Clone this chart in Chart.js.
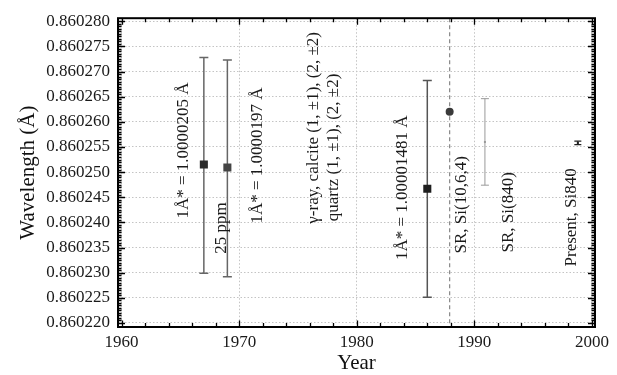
<!DOCTYPE html>
<html><head><meta charset="utf-8">
<script src="https://cdn.jsdelivr.net/npm/chart.js@4/dist/chart.umd.min.js"></script>
<style>html,body{margin:0;padding:0;background:#fff;} canvas{display:block;}</style>
</head><body>
<canvas id="c" width="617" height="375"></canvas>
<script>
// ---- data ----
const years = [1967, 1969, 1986, 1987.9, 1990.9, 1998.8];
const wavelengths = [0.8602515, 0.8602509, 0.8602467, 0.8602620, 0.8602560, 0.8602558];
const errPlus  = [0.0000213, 0.0000214, 0.0000215, 0, 0.0000086, 0.00000035];
const errMinus = [0.0000216, 0.0000217, 0.0000216, 0, 0.0000086, 0.00000035];
const yTicks = [0.860220, 0.860225, 0.860230, 0.860235, 0.860240, 0.860245, 0.860250,
                0.860255, 0.860260, 0.860265, 0.860270, 0.860275, 0.860280];
const yTickLabels = ['0.860220','0.860225','0.860230','0.860235','0.860240','0.860245','0.860250',
                     '0.860255','0.860260','0.860265','0.860270','0.860275','0.860280'];
const xTicks = [1960, 1970, 1980, 1990, 2000];
const xTickLabels = ['1960','1970','1980','1990','2000'];
const refLineYear = 1987.9;
const noteTexts = [
  '1Å* = 1.0000205 Å',
  '25 ppm',
  '1Å* = 1.0000197 Å',
  'γ-ray, calcite (1, ±1), (2, ±2)',
  'quartz (1, ±1), (2, ±2)',
  '1Å* = 1.00001481 Å',
  'SR, Si(10,6,4)',
  'SR, Si(840)',
  'Present, Si840'
];
const xTitle = 'Year';
const yTitle = 'Wavelength (Å)';

// ---- presentation ----
const FONT = "'Liberation Serif', 'Times New Roman', serif";
Chart.defaults.font.family = FONT;
Chart.defaults.font.size = 17;
Chart.defaults.color = '#111';
const noteAnchors = [ // data-coordinate anchors of the rotated notes
  {x: 1965.23, y: 0.8602543}, {x: 1968.52, y: 0.8602389}, {x: 1971.55, y: 0.8602533},
  {x: 1976.30, y: 0.8602588}, {x: 1978.00, y: 0.8602549}, {x: 1983.92, y: 0.8602469},
  {x: 1988.95, y: 0.8602435}, {x: 1992.90, y: 0.8602420}, {x: 1998.30, y: 0.8602410}
];
const barStyle = {
  color: ['#666','#666','#555','#666','#999','#222'],
  width: [1.5,1.5,1.5,1,1,1.2],
  cap:   [4.5,4.5,4.5,0,4,3.5]
};

const plugin = {
  id: 'decor',
  beforeDatasetsDraw(chart) {
    const {ctx, chartArea: a, scales: {x, y}} = chart;
    ctx.save();
    ctx.strokeStyle = '#888'; ctx.lineWidth = 1.2; ctx.setLineDash([4, 3]);
    const rx = x.getPixelForValue(refLineYear);
    ctx.beginPath(); ctx.moveTo(rx, a.top); ctx.lineTo(rx, a.bottom); ctx.stroke();
    ctx.setLineDash([]);
    years.forEach((yr, i) => {
      if (!errPlus[i] && !errMinus[i]) return;
      const px = x.getPixelForValue(yr);
      const top = y.getPixelForValue(wavelengths[i] + errPlus[i]);
      const bot = y.getPixelForValue(wavelengths[i] - errMinus[i]);
      const c = barStyle.cap[i];
      ctx.strokeStyle = barStyle.color[i]; ctx.lineWidth = barStyle.width[i];
      ctx.beginPath();
      ctx.moveTo(px, top); ctx.lineTo(px, bot);
      ctx.moveTo(px - c, top); ctx.lineTo(px + c, top);
      ctx.moveTo(px - c, bot); ctx.lineTo(px + c, bot);
      ctx.stroke();
    });
    ctx.restore();
  },
  afterDraw(chart) {
    const {ctx, chartArea: a, scales: {x, y}} = chart;
    ctx.save();
    ctx.strokeStyle = '#000'; ctx.lineWidth = 1.3;
    ctx.beginPath();
    const x0 = xTicks[0], xStep = (xTicks[1] - xTicks[0]) / 5;
    const nx = Math.round((xTicks[xTicks.length - 1] - x0) / xStep);
    for (let i = 0; i <= nx; i++) {
      const px = Math.round(x.getPixelForValue(x0 + i * xStep)) + 0.5;
      const len = (i % 5 === 0) ? 6.5 : 4;
      ctx.moveTo(px, a.bottom); ctx.lineTo(px, a.bottom - len);
      ctx.moveTo(px, a.top); ctx.lineTo(px, a.top + len);
    }
    const y0 = yTicks[0], yStep = (yTicks[1] - yTicks[0]) / 10;
    const ny = Math.round((yTicks[yTicks.length - 1] - y0) / yStep);
    for (let i = 0; i <= ny; i++) {
      const py = Math.round(y.getPixelForValue(y0 + i * yStep)) + 0.5;
      const len = (i % 10 === 0) ? 7 : 3.5;
      ctx.moveTo(a.left, py); ctx.lineTo(a.left + len, py);
      ctx.moveTo(a.right, py); ctx.lineTo(a.right - len, py);
    }
    ctx.stroke();
    ctx.lineWidth = 2;
    ctx.strokeRect(a.left, a.top, a.right - a.left, a.bottom - a.top);
    ctx.fillStyle = '#1a1a1a';
    ctx.font = '17px ' + FONT;
    ctx.textAlign = 'center'; ctx.textBaseline = 'middle';
    noteTexts.forEach((t, i) => {
      const px = x.getPixelForValue(noteAnchors[i].x);
      const py = y.getPixelForValue(noteAnchors[i].y);
      ctx.save(); ctx.translate(px, py); ctx.rotate(-Math.PI / 2);
      ctx.fillText(t, 0, 0); ctx.restore();
    });
    ctx.restore();
  }
};

const gridOpts = { color: '#c4c4c4', lineWidth: 1, drawTicks: false };

new Chart(document.getElementById('c'), {
  type: 'scatter',
  data: {
    datasets: [{
      data: years.map((yr, i) => ({x: yr, y: wavelengths[i]})),
      pointStyle: ['rect','rect','rect','circle','rect','rect'],
      pointRadius: [5.7, 5.7, 5.7, 4, 1.4, 1.4],
      pointBackgroundColor: ['#2a2a2a','#444','#1e1e1e','#3a3a3a','#999','#222'],
      pointBorderWidth: 0,
      pointHoverRadius: [5.7, 5.7, 5.7, 4, 1.4, 1.4],
      showLine: false
    }]
  },
  options: {
    responsive: false, animation: false,
    devicePixelRatio: 1,
    layout: { padding: { left: 0, top: 12, right: 22, bottom: 0 } },
    plugins: { legend: { display: false }, tooltip: { enabled: false } },
    scales: {
      x: {
        type: 'linear', min: 1959.70, max: 2000.26,
        afterBuildTicks: s => { s.ticks = xTicks.map(v => ({value: v})); },
        afterFit: s => { s.height = 48; },
        grid: gridOpts,
        border: { display: false, dash: [1.5, 2] },
        ticks: { color: '#1a1a1a', font: { family: FONT, size: 17 }, padding: 5,
                 maxRotation: 0, autoSkip: false,
                 callback: (v, i) => xTickLabels[i] },
        title: { display: true, text: xTitle, color: '#111',
                 font: { family: FONT, size: 21, lineHeight: 1 },
                 padding: { top: 0, bottom: 1 } }
      },
      y: {
        type: 'linear', min: 0.8602192, max: 0.8602806,
        afterBuildTicks: s => { s.ticks = yTicks.map(v => ({value: v})); },
        afterFit: s => { s.width = 118; },
        grid: gridOpts,
        border: { display: false, dash: [1.5, 2] },
        ticks: { color: '#1a1a1a', font: { family: FONT, size: 17 }, padding: 8,
                 autoSkip: false,
                 callback: (v, i) => yTickLabels[i] },
        title: { display: true, text: yTitle, color: '#111',
                 font: { family: FONT, size: 21, lineHeight: 1 },
                 padding: { top: 18, bottom: 0 } }
      }
    }
  },
  plugins: [plugin]
});
</script>
</body></html>
